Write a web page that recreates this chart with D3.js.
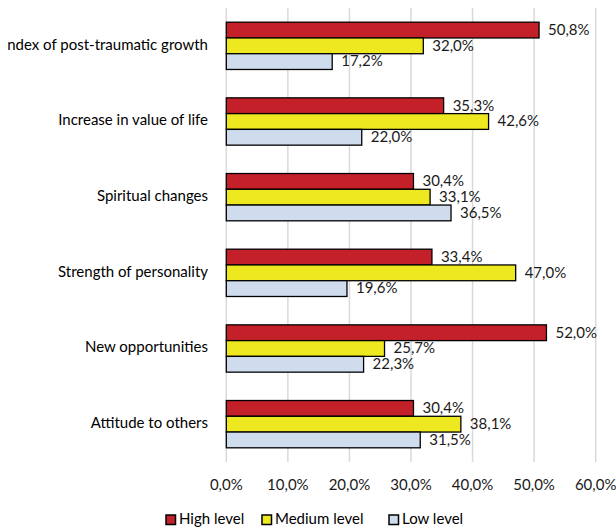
<!DOCTYPE html>
<html><head><meta charset="utf-8">
<script src="https://cdn.jsdelivr.net/npm/d3@7"></script>
<style>html,body{margin:0;padding:0;background:#fff;}svg{display:block;}</style>
</head><body>
<svg id="chart" width="616" height="529"></svg>
<script>
const categories = ["ndex of post-traumatic growth","Increase in value of life","Spiritual changes","Strength of personality","New opportunities","Attitude to others"];
const seriesNames = ["High level","Medium level","Low level"];
const highLevel = [50.8,35.3,30.4,33.4,52.0,30.4];
const mediumLevel = [32.0,42.6,33.1,47.0,25.7,38.1];
const lowLevel = [17.2,22.0,36.5,19.6,22.3,31.5];
const xTicks = [0,10,20,30,40,50,60];
const colors = ["#C4202A","#EEE820","#CFDCEE"];

const series = [highLevel, mediumLevel, lowLevel];
const svg = d3.select("#chart");
const font = "Lato, 'Open Sans', sans-serif";
const x = d3.scaleLinear().domain([0,60]).range([226.3,595.7]);
const y = d3.scaleBand().domain(categories).range([8,462]).paddingInner(0.375).paddingOuter(0.1875);
const yi = d3.scaleBand().domain(seriesNames).range([0,y.bandwidth()]);
const fmt = v => v.toFixed(1).replace(".",",") + "%";

// gridlines
svg.append("g").selectAll("line").data(xTicks).join("line")
  .attr("x1",d=>x(d)).attr("x2",d=>x(d)).attr("y1",8).attr("y2",462)
  .attr("stroke","#d9d9d9").attr("stroke-width",1.5);

// bars
const groups = svg.append("g").selectAll("g").data(categories).join("g")
  .attr("transform",c=>`translate(0,${y(c)})`);
groups.selectAll("rect").data((c,i)=>series.map((s,j)=>({v:s[i],j}))).join("rect")
  .attr("x",x(0)).attr("y",d=>yi(seriesNames[d.j]))
  .attr("width",d=>x(d.v)-x(0)).attr("height",yi.bandwidth())
  .attr("fill",d=>colors[d.j]).attr("stroke","#000").attr("stroke-width",1.3);
groups.selectAll("text").data((c,i)=>series.map((s,j)=>({v:s[i],j}))).join("text")
  .attr("x",d=>x(d.v)+9).attr("y",d=>yi(seriesNames[d.j])+yi.bandwidth()/2+1)
  .attr("dominant-baseline","middle").attr("font-family",font).attr("font-size",15)
  .attr("fill","#1a1a1a").text(d=>fmt(d.v));

// category labels
svg.append("g").selectAll("text").data(categories).join("text")
  .attr("x",208).attr("y",c=>y(c)+y.bandwidth()/2)
  .attr("text-anchor","end").attr("dominant-baseline","middle")
  .attr("font-family",font).attr("font-size",15).attr("fill","#000").text(c=>c);

// x axis labels
svg.append("g").selectAll("text").data(xTicks).join("text")
  .attr("x",d=>x(d)).attr("y",486).attr("text-anchor","middle").attr("dominant-baseline","middle")
  .attr("font-family",font).attr("font-size",15).attr("fill","#1a1a1a").text(d=>fmt(d));

// legend
const legX = [166,262,389];
const leg = svg.append("g").selectAll("g").data(seriesNames).join("g")
  .attr("transform",(d,i)=>`translate(${legX[i]},520)`);
leg.append("rect").attr("x",0).attr("y",-5).attr("width",9.5).attr("height",9.5)
  .attr("fill",(d,i)=>colors[i]).attr("stroke","#000").attr("stroke-width",1.5);
leg.append("text").attr("x",13).attr("y",0).attr("dominant-baseline","middle")
  .attr("font-family",font).attr("font-size",15).attr("fill","#000").text(d=>d);
</script>
</body></html>
